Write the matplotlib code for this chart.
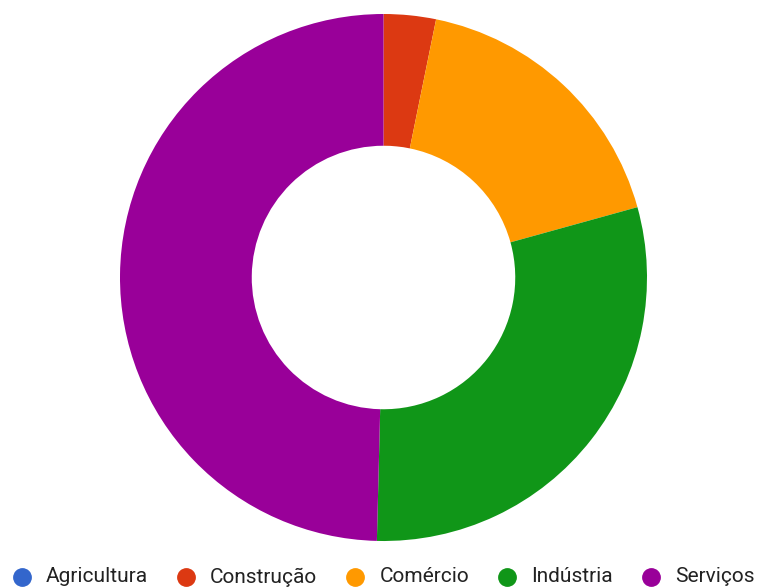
import matplotlib
matplotlib.use("Agg")
import matplotlib.pyplot as plt
from matplotlib.lines import Line2D

plt.rcParams['font.family'] = ['Roboto', 'DejaVu Sans']

# sector shares (%)
sectors = ["Agricultura", "Construção", "Comércio", "Indústria", "Serviços"]
shares = [0.0, 3.2, 17.5, 29.7, 49.6]
colors = ["#3366cc", "#dc3912", "#ff9900", "#109618", "#990099"]

W, H = 757, 587
fig = plt.figure(figsize=(W / 100, H / 100), dpi=100)

cx, cy, r = 383.5, 277.5, 263.5
ax = fig.add_axes([(cx - r) / W, (H - cy - r) / H, 2 * r / W, 2 * r / H])
ax.pie(shares, colors=colors, startangle=90, counterclock=False, radius=1,
       wedgeprops=dict(width=0.5, linewidth=0))
ax.set_xlim(-1, 1)
ax.set_ylim(-1, 1)
ax.set_aspect("equal")
ax.axis("off")

# legend row along the bottom, laid out item by item in pixels
renderer = fig.canvas.get_renderer()
ly = 1 - 577 / H
x = 12
for name, c in zip(sectors, colors):
    fig.add_artist(Line2D([(x + 10) / W], [ly], marker="o", markersize=12.5,
                          markerfacecolor=c, markeredgecolor=c,
                          transform=fig.transFigure))
    t = fig.text((x + 34) / W, ly, name, fontsize=15, color="#222222",
                 va="center", ha="left")
    x = t.get_window_extent(renderer).x1 + 28

fig.savefig("out.png", dpi=100)
